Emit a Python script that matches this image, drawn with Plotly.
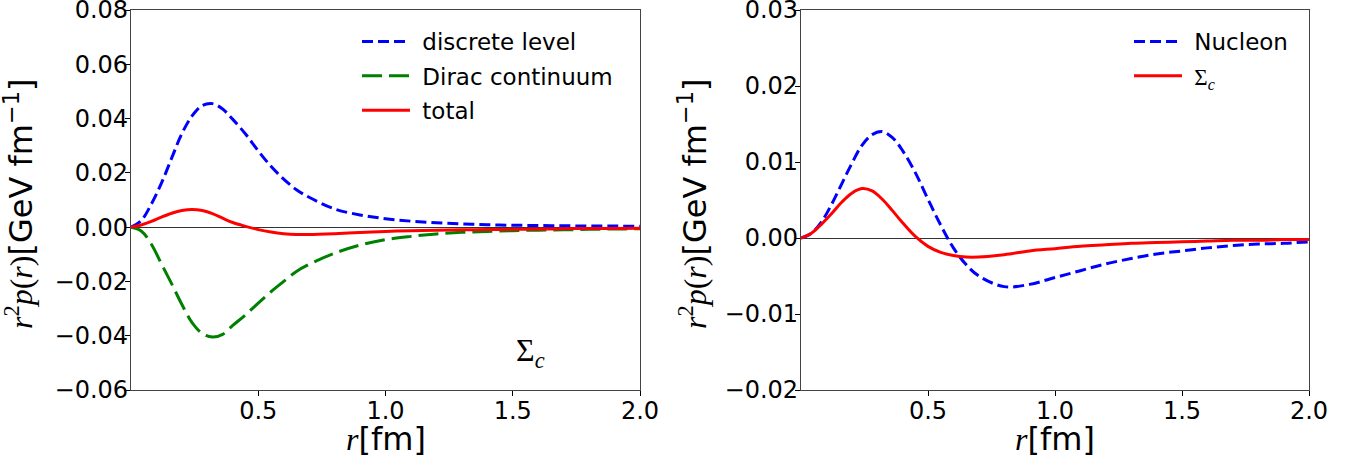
import plotly.graph_objects as go

# radial grid (fm) shared by all curves
r = [0.0, 0.04, 0.08, 0.12, 0.16, 0.2, 0.24, 0.28, 0.32, 0.36, 0.4, 0.45, 0.5,
     0.55, 0.6, 0.65, 0.7, 0.8, 0.9, 1.0, 1.1, 1.2, 1.3, 1.4, 1.5, 1.6, 1.7,
     1.8, 1.9, 2.0]

# left panel: Sigma_c pressure decomposition, r^2 p(r) in GeV fm^-1
discrete_level = [0.0, 0.0024, 0.0085, 0.0163, 0.0255, 0.0345, 0.0410, 0.0448,
                  0.0455, 0.0435, 0.0397, 0.0343, 0.0281, 0.0224, 0.0177,
                  0.0138, 0.0110, 0.0067, 0.0045, 0.0031, 0.0022, 0.0016,
                  0.0012, 0.0009, 0.0007, 0.0006, 0.0005, 0.0004, 0.0004,
                  0.0003]
dirac_continuum = [0.0, -0.0014, -0.0063, -0.0136, -0.0209, -0.0285, -0.0352,
                   -0.0392, -0.0405, -0.0395, -0.0362, -0.0323, -0.0280,
                   -0.0238, -0.0200, -0.0163, -0.0137, -0.0096, -0.0066,
                   -0.0046, -0.0034, -0.0025, -0.0019, -0.0016, -0.0013,
                   -0.0011, -0.0010, -0.0008, -0.0007, -0.0006]
total = [0.0, 0.0008, 0.0021, 0.0037, 0.0051, 0.0061, 0.0065, 0.0061, 0.0050,
         0.0033, 0.0017, 0.0003, -0.0009, -0.0018, -0.0024, -0.0027, -0.0027,
         -0.0024, -0.0020, -0.0016, -0.0013, -0.0011, -0.0010, -0.0009,
         -0.0008, -0.0007, -0.0006, -0.0005, -0.0005, -0.0004]

# right panel: nucleon vs Sigma_c
nucleon = [0.0, 0.0006, 0.0021, 0.0044, 0.0071, 0.0098, 0.0122, 0.0136, 0.0140,
           0.0132, 0.0115, 0.0086, 0.0051, 0.0017, -0.0013, -0.0035, -0.0050,
           -0.0064, -0.0061, -0.0052, -0.0043, -0.0034, -0.0027, -0.0021,
           -0.0017, -0.0013, -0.0010, -0.0008, -0.0007, -0.0005]
sigma_c = [0.0, 0.0006, 0.0018, 0.0032, 0.0047, 0.0059, 0.0065, 0.0062, 0.0051,
           0.0036, 0.0020, 0.0002, -0.0011, -0.0019, -0.0023, -0.0025, -0.0025,
           -0.0022, -0.0017, -0.0014, -0.0011, -0.0009, -0.0007, -0.0006,
           -0.0005, -0.0004, -0.0003, -0.0003, -0.0002, -0.0002]

x_ticks = [0.5, 1.0, 1.5, 2.0]
y_ticks_left = [-0.06, -0.04, -0.02, 0.0, 0.02, 0.04, 0.06, 0.08]
y_ticks_right = [-0.02, -0.01, 0.0, 0.01, 0.02, 0.03]

W, H = 1361, 459
SANS = "DejaVu Sans"
SERIF = "Liberation Serif"
PAD = "\u00a0"  # spacing between legend sample and label

BLUE, GREEN, RED = "#0000ff", "#008000", "#ff0000"

fig = go.Figure()

fig.add_trace(go.Scatter(x=r, y=discrete_level, name=PAD + "discrete level",
                         mode="lines", line=dict(color=BLUE, width=3, dash="11px,5px", shape="spline"),
                         xaxis="x", yaxis="y", legend="legend", legendgroup="a"))
fig.add_trace(go.Scatter(x=r, y=dirac_continuum, name=PAD + "Dirac continuum",
                         mode="lines", line=dict(color=GREEN, width=3, dash="20px,7px", shape="spline"),
                         xaxis="x", yaxis="y", legend="legend", legendgroup="b"))
fig.add_trace(go.Scatter(x=r, y=total, name=PAD + "total",
                         mode="lines", line=dict(color=RED, width=3, shape="spline"),
                         xaxis="x", yaxis="y", legend="legend", legendgroup="c"))

fig.add_trace(go.Scatter(x=r, y=nucleon, name=PAD + "Nucleon",
                         mode="lines", line=dict(color=BLUE, width=3, dash="11px,5px", shape="spline"),
                         xaxis="x2", yaxis="y2", legend="legend2", legendgroup="d"))
fig.add_trace(go.Scatter(x=r, y=sigma_c,
                         name=PAD + f'<span style="font-family:{SERIF}">Σ<sub><i>c</i></sub></span>',
                         mode="lines", line=dict(color=RED, width=3, shape="spline"),
                         xaxis="x2", yaxis="y2", legend="legend2", legendgroup="e"))

frame = "#444444"


def xaxis(domain, anchor):
    return dict(domain=domain, anchor=anchor, range=[0, 2], showgrid=False,
                zeroline=False, showline=True, mirror=True, linecolor=frame,
                linewidth=1.2, ticks="outside", ticklen=5, tickcolor="#000",
                tickvals=x_ticks, ticktext=[f"{v:.1f}" for v in x_ticks],
                ticklabelposition="outside", ticklabelstandoff=-6,
                ticklabeloverflow="allow", automargin=False,
                tickfont=dict(family=SANS, size=24, color="#000"))


def yaxis(domain, anchor, rng, ticks):
    return dict(domain=domain, anchor=anchor, range=rng, showgrid=False,
                zeroline=True, zerolinecolor="#333333", zerolinewidth=1.2,
                showline=True, mirror=True, linecolor=frame, linewidth=1.2,
                ticks="outside", ticklen=5, tickcolor="#000",
                tickvals=ticks, ticktext=[f"{v:.2f}".replace("-", "−") for v in ticks],
                ticklabelposition="outside", ticklabelstandoff=-8,
                ticklabeloverflow="allow", automargin=False,
                tickfont=dict(family=SANS, size=24, color="#000"))


yd = [69 / H, 449 / H]
fig.update_layout(
    width=W, height=H,
    margin=dict(l=0, r=0, t=0, b=0, autoexpand=False),
    paper_bgcolor="white", plot_bgcolor="white",
    xaxis=xaxis([131 / W, 640 / W], "y"),
    yaxis=yaxis(yd, "x", [-0.06, 0.08], y_ticks_left),
    xaxis2=xaxis([801 / W, 1309 / W], "y2"),
    yaxis2=yaxis(yd, "x2", [-0.02, 0.03], y_ticks_right),
    legend=dict(x=357 / W, y=1 - 20 / H, xanchor="left", yanchor="top",
                bgcolor="rgba(0,0,0,0)", font=dict(family=SANS, size=23, color="#000"),
                tracegroupgap=1.5, itemwidth=48),
    legend2=dict(x=1129 / W, y=1 - 20 / H, xanchor="left", yanchor="top",
                 bgcolor="rgba(0,0,0,0)", font=dict(family=SANS, size=23, color="#000"),
                 tracegroupgap=1.5, itemwidth=48),
)

ytitle = (f'<span style="font-family:{SERIF}"><i>r</i><sup>2</sup><i>p</i>(<i>r</i>)</span>'
          '[GeV fm<sup>−1</sup>]')
xtitle = f'<span style="font-family:{SERIF}"><i>r</i></span>[fm]'

titles = [
    dict(text=xtitle, x=386 / W, y=1 - 439 / H, size=32),
    dict(text=xtitle, x=1055 / W, y=1 - 439 / H, size=32),
    dict(text=ytitle, x=19 / W, y=1 - 204 / H, textangle=-90, size=32),
    dict(text=ytitle, x=693 / W, y=1 - 204 / H, textangle=-90, size=32),
]
for a in titles:
    size = a.pop("size")
    a.update(xref="paper", yref="paper", showarrow=False, xanchor="center",
             yanchor="middle", font=dict(family=SANS, size=size, color="#000"))
    fig.add_annotation(**a)

fig.add_annotation(text=f'<span style="font-family:{SERIF}">Σ<sub><i>c</i></sub></span>',
                   x=1.57, y=-0.0462, xref="x", yref="y", showarrow=False,
                   xanchor="center", yanchor="middle",
                   font=dict(family=SERIF, size=32, color="#000"))

fig.write_html("out.html")
